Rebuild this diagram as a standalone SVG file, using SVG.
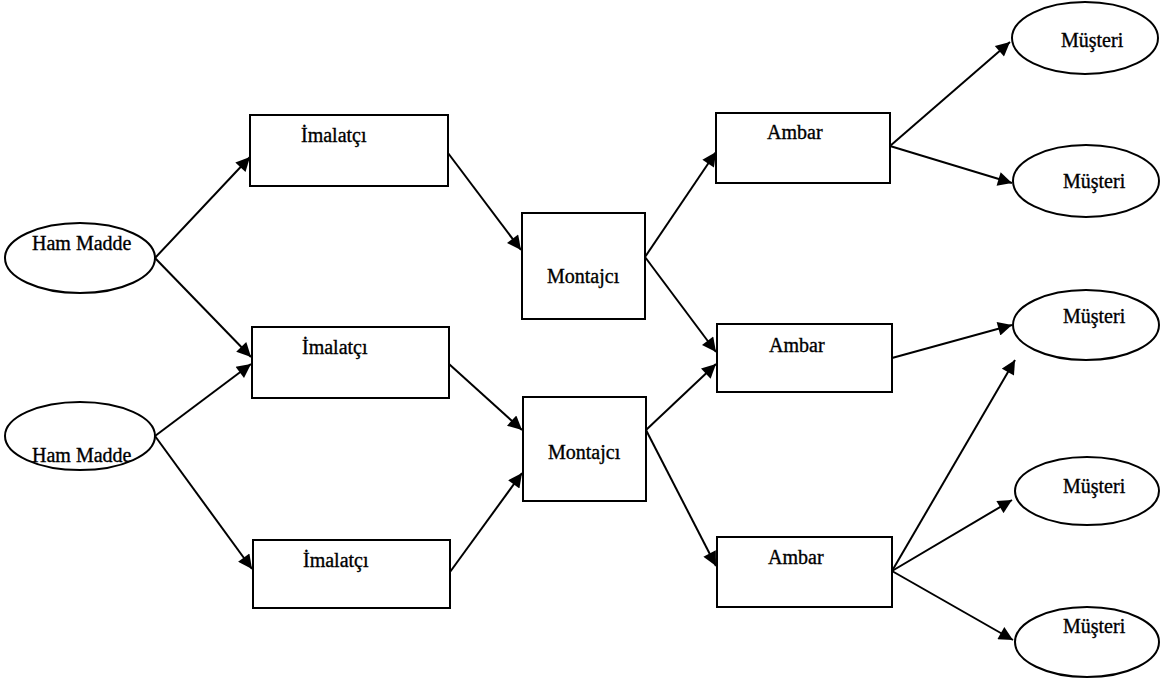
<svg xmlns="http://www.w3.org/2000/svg" width="1162" height="683" viewBox="0 0 1162 683">
  <style>
    .box { fill: #fff; stroke: #000; stroke-width: 2; }
    .ell { fill: #fff; stroke: #000; stroke-width: 2; }
    .lbl { font-family: "Liberation Serif", "Times New Roman", serif; font-size: 20px; fill: #000; stroke: #000; stroke-width: 0.35; }
    .edge { stroke: #000; stroke-width: 2; fill: none; marker-end: url(#arrow); }
  </style>
  <defs>
    <marker id="arrow" viewBox="0 0 10 10" refX="10" refY="5" markerWidth="8" markerHeight="7" markerUnits="strokeWidth" orient="auto">
      <path d="M0,0 L10,5 L0,10 Z" fill="#000"/>
    </marker>
  </defs>
  <rect width="1162" height="683" fill="#fff"/>

  <!-- connectors -->
  <g id="connectors">
    <line class="edge" x1="155" y1="258" x2="250" y2="157"/>
    <line class="edge" x1="155" y1="258" x2="251" y2="357"/>
    <line class="edge" x1="155" y1="436" x2="251" y2="364"/>
    <line class="edge" x1="155" y1="436" x2="252" y2="569"/>
    <line class="edge" x1="448" y1="153" x2="521" y2="250"/>
    <line class="edge" x1="449" y1="364" x2="522" y2="430"/>
    <line class="edge" x1="450" y1="572" x2="522" y2="473"/>
    <line class="edge" x1="645" y1="257" x2="716" y2="152"/>
    <line class="edge" x1="645" y1="257" x2="716" y2="352"/>
    <line class="edge" x1="646" y1="430" x2="716" y2="364"/>
    <line class="edge" x1="646" y1="430" x2="716" y2="566"/>
    <line class="edge" x1="890" y1="146" x2="1010" y2="42"/>
    <line class="edge" x1="890" y1="146" x2="1012" y2="183"/>
    <line class="edge" x1="892" y1="358" x2="1012" y2="325"/>
    <line class="edge" x1="892" y1="571" x2="1015" y2="360"/>
    <line class="edge" x1="892" y1="571" x2="1012" y2="500"/>
    <line class="edge" x1="892" y1="571" x2="1013" y2="640"/>
  </g>

  <!-- raw material sources -->
  <g id="ham-madde-1">
    <ellipse class="ell" cx="80" cy="258" rx="75" ry="35"/>
    <text class="lbl" x="32" y="250">Ham Madde</text>
  </g>
  <g id="ham-madde-2">
    <ellipse class="ell" cx="80" cy="436" rx="75" ry="34"/>
    <text class="lbl" x="32" y="462">Ham Madde</text>
  </g>

  <!-- manufacturers -->
  <g id="imalatci-1">
    <rect class="box" x="250" y="115" width="198" height="71"/>
    <text class="lbl" x="301" y="142">İmalatçı</text>
  </g>
  <g id="imalatci-2">
    <rect class="box" x="252" y="327" width="197" height="71"/>
    <text class="lbl" x="302" y="354">İmalatçı</text>
  </g>
  <g id="imalatci-3">
    <rect class="box" x="253" y="540" width="197" height="68"/>
    <text class="lbl" x="303" y="567">İmalatçı</text>
  </g>

  <!-- assemblers -->
  <g id="montajci-1">
    <rect class="box" x="522" y="213" width="123" height="106"/>
    <text class="lbl" x="547" y="283">Montajcı</text>
  </g>
  <g id="montajci-2">
    <rect class="box" x="523" y="397" width="123" height="104"/>
    <text class="lbl" x="548" y="459">Montajcı</text>
  </g>

  <!-- warehouses -->
  <g id="ambar-1">
    <rect class="box" x="716" y="113" width="174" height="70"/>
    <text class="lbl" x="767" y="139">Ambar</text>
  </g>
  <g id="ambar-2">
    <rect class="box" x="717" y="324" width="175" height="68"/>
    <text class="lbl" x="769" y="352">Ambar</text>
  </g>
  <g id="ambar-3">
    <rect class="box" x="717" y="537" width="175" height="70"/>
    <text class="lbl" x="768" y="564">Ambar</text>
  </g>

  <!-- customers -->
  <g id="musteri-1">
    <ellipse class="ell" cx="1085" cy="38" rx="73" ry="36"/>
    <text class="lbl" x="1061" y="47">Müşteri</text>
  </g>
  <g id="musteri-2">
    <ellipse class="ell" cx="1086" cy="181" rx="73" ry="36"/>
    <text class="lbl" x="1063" y="188">Müşteri</text>
  </g>
  <g id="musteri-3">
    <ellipse class="ell" cx="1086" cy="325" rx="73" ry="35"/>
    <text class="lbl" x="1063" y="323">Müşteri</text>
  </g>
  <g id="musteri-4">
    <ellipse class="ell" cx="1087" cy="491" rx="72" ry="34"/>
    <text class="lbl" x="1063" y="493">Müşteri</text>
  </g>
  <g id="musteri-5">
    <ellipse class="ell" cx="1087" cy="642" rx="72" ry="35"/>
    <text class="lbl" x="1063" y="633">Müşteri</text>
  </g>
</svg>
